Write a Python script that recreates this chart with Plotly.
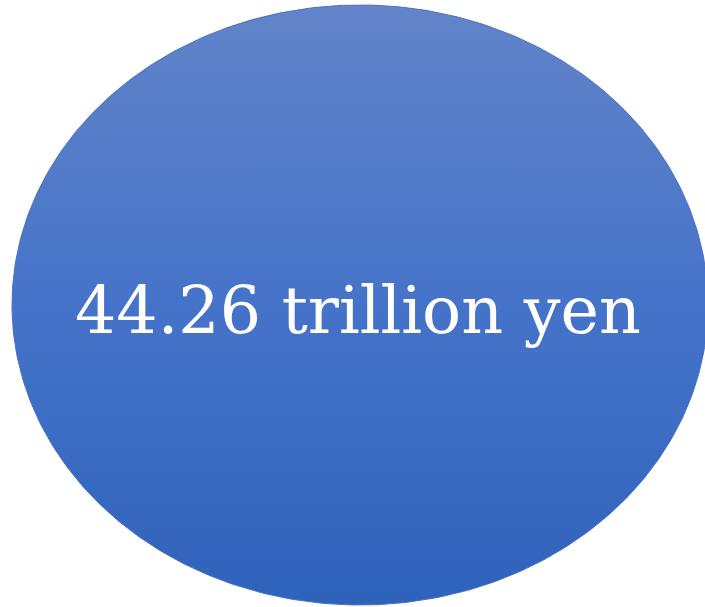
import numpy as np
import plotly.graph_objects as go

# Headline figure shown in the bubble
label = "44.26 trillion yen"

# Bubble geometry in page units
cx, cy = 360, 305
rx, ry = 348, 300

# Vertical gradient from the top of the bubble down to the bottom
grad_stops = [0.0, 0.5, 1.0]
grad_colors = ["#2f62bb", "#4573c9", "#6284c9"]

W, H = 705, 607

t = np.linspace(0, 2 * np.pi, 400)
ex = cx + rx * np.cos(t)
ey = cy + ry * np.sin(t)

fig = go.Figure()
fig.add_trace(go.Scatter(
    x=ex, y=H - ey,
    mode="lines",
    fill="toself",
    fillgradient=dict(
        type="vertical",
        colorscale=list(zip(grad_stops, grad_colors)),
    ),
    line=dict(color="#4a6fc0", width=1),
    hoverinfo="skip",
    showlegend=False,
))

fig.add_annotation(
    x=358, y=H - 310,
    text=label,
    showarrow=False,
    font=dict(family="DejaVu Serif", size=65, color="white"),
    xanchor="center", yanchor="middle",
)

fig.update_xaxes(range=[0, W], visible=False, fixedrange=True)
fig.update_yaxes(range=[0, H], visible=False, fixedrange=True)
fig.update_layout(
    width=W, height=H,
    margin=dict(l=0, r=0, t=0, b=0),
    paper_bgcolor="white",
    plot_bgcolor="white",
)

fig.write_html("out.html")
